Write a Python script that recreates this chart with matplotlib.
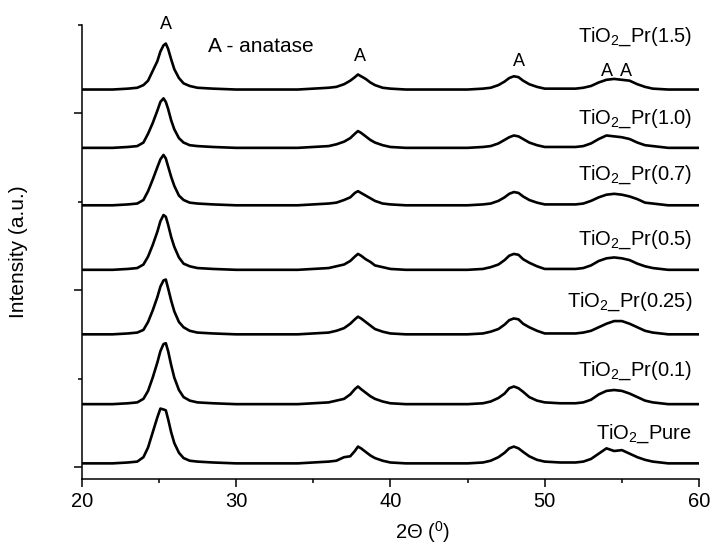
import matplotlib

matplotlib.use("Agg")
import matplotlib.pyplot as plt
from matplotlib.ticker import MultipleLocator

plt.rcParams["font.family"] = "Liberation Sans"
plt.rcParams["mathtext.fontset"] = "custom"
plt.rcParams["mathtext.rm"] = "Liberation Sans"
plt.rcParams["mathtext.it"] = "Liberation Sans:italic"
plt.rcParams["mathtext.bf"] = "Liberation Sans:bold"

# 2-theta sampling points (degrees)
TWO_THETA = [20, 21, 22, 23, 23.6, 24.0, 24.3, 24.6, 24.9, 25.1, 25.3, 25.45, 25.6,
             25.8, 26.0, 26.3, 26.6, 27.0, 27.5, 28.5, 30, 32, 34,
             35, 36, 36.5, 37.0, 37.4, 37.7, 37.9, 38.1, 38.4, 38.7, 39.0, 39.5, 40, 41, 43,
             45, 46, 46.5, 47.0, 47.4, 47.7, 48.0, 48.3, 48.6, 49.0, 49.5, 50, 51,
             52, 52.5, 53.0, 53.5, 54.0, 54.5, 55.0, 55.5, 56.0, 56.5, 57.0, 58, 59, 60]

# intensity above each pattern's own baseline (a.u.)
PR_15 = [0, 0, 0, 1, 2, 5, 10, 21, 32, 43, 50, 52, 46, 34, 23, 13, 7, 4, 2, 1, 0, 0, 0,
         1, 2, 3, 6, 10, 14, 17, 15, 12, 8, 5, 2, 1, 0, 0,
         0, 1, 2, 5, 9, 13, 15, 14, 10, 6, 3, 1, 1,
         1, 2, 4, 8, 11, 12, 11, 10, 6, 3, 1, 0, 0, 0]
PR_10 = [0, 0, 0, 1, 2, 6, 16, 28, 42, 52, 56, 52, 44, 31, 21, 11, 6, 3, 2, 1, 0, 0, 0,
         1, 2, 4, 7, 11, 16, 19, 17, 13, 9, 6, 3, 1, 0, 0,
         0, 1, 2, 5, 9, 12, 14, 13, 10, 6, 3, 1, 1,
         1, 2, 5, 10, 14, 13, 12, 10, 6, 3, 2, 0, 0, 0]
PR_07 = [0, 0, 0, 1, 2, 6, 16, 29, 43, 52, 57, 53, 44, 32, 22, 11, 6, 3, 2, 1, 0, 0, 0,
         1, 2, 3, 6, 9, 14, 16, 14, 11, 8, 5, 2, 1, 0, 0,
         0, 1, 2, 5, 9, 13, 15, 14, 10, 6, 3, 1, 1,
         1, 2, 5, 9, 12, 13, 12, 10, 7, 3, 2, 0, 0, 0]
PR_05 = [0, 0, 0, 1, 2, 6, 15, 28, 43, 55, 62, 60, 51, 37, 26, 14, 7, 4, 2, 1, 0, 0, 0,
         1, 2, 4, 6, 10, 15, 18, 16, 12, 9, 5, 3, 1, 0, 0,
         0, 1, 3, 6, 11, 16, 18, 17, 12, 8, 4, 1, 1,
         1, 2, 5, 10, 13, 14, 13, 11, 7, 4, 2, 0, 0, 0]
PR_025 = [0, 0, 0, 1, 2, 5, 14, 27, 42, 54, 61, 62, 52, 38, 26, 14, 8, 4, 2, 1, 0, 0, 0,
          1, 2, 4, 7, 12, 17, 20, 18, 14, 10, 6, 3, 1, 0, 0,
          0, 1, 3, 6, 11, 16, 18, 17, 12, 8, 4, 1, 1,
          1, 2, 4, 8, 12, 15, 15, 12, 8, 4, 2, 0, 0, 0]
PR_01 = [0, 0, 0, 1, 2, 6, 15, 30, 47, 60, 68, 69, 60, 44, 30, 16, 8, 4, 2, 1, 0, 0, 0,
         1, 2, 4, 6, 11, 17, 20, 17, 13, 9, 6, 3, 1, 0, 0,
         0, 1, 3, 7, 12, 18, 20, 18, 14, 8, 4, 2, 1,
         1, 2, 5, 11, 15, 16, 15, 12, 8, 4, 2, 0, 0, 0]
PURE = [0, 0, 0, 1, 2, 7, 18, 35, 52, 62, 61, 60, 50, 35, 23, 12, 6, 3, 2, 1, 0, 0, 0,
        1, 2, 3, 7, 8, 14, 19, 17, 13, 9, 6, 3, 1, 0, 0,
        0, 1, 3, 7, 12, 17, 19, 17, 13, 8, 4, 2, 1,
        1, 2, 5, 11, 17, 14, 15, 11, 7, 4, 2, 0, 0, 0]

SAMPLE_NAMES = ["TiO$_2$_Pure", "TiO$_2$_Pr(0.1)", "TiO$_2$_Pr(0.25)", "TiO$_2$_Pr(0.5)",
                "TiO$_2$_Pr(0.7)", "TiO$_2$_Pr(1.0)", "TiO$_2$_Pr(1.5)"]
SAMPLE_COUNTS = [PURE, PR_01, PR_025, PR_05, PR_07, PR_10, PR_15]
OFFSETS = [4, 71, 150, 223, 296, 361, 427]

# anatase reflections marked with "A"
ANATASE_X = [25.47, 38.05, 48.3, 54.06, 55.28]


def main() -> None:
    fig = plt.figure(figsize=(7.11, 5.46), dpi=100)
    ax = fig.add_axes([0.1149, 0.1222, 0.8683, 0.8320])

    for counts, offset in zip(SAMPLE_COUNTS, OFFSETS):
        ax.plot(TWO_THETA, [offset + c for c in counts], color="black", lw=1.9)

    label_y = [32, 103, 181, 251, 325, 388, 481]
    for name, y in zip(SAMPLE_NAMES, label_y):
        ax.text(59.55, y, name, ha="right", va="baseline", fontsize=14.5)

    a_y = [496, 459, 454, 442, 442]
    for x, y in zip(ANATASE_X, a_y):
        ax.text(x, y, "A", ha="center", va="baseline", fontsize=13)
    ax.text(28.19, 470, "A - anatase", ha="left", va="baseline", fontsize=15)

    ax.set_xlim(20, 60)
    ax.set_ylim(-14, 500)
    ax.xaxis.set_major_locator(MultipleLocator(10))
    ax.xaxis.set_minor_locator(MultipleLocator(5))
    ax.yaxis.set_major_locator(MultipleLocator(200))
    ax.yaxis.set_minor_locator(MultipleLocator(100))
    ax.tick_params(axis="both", which="major", length=5.5, width=1.1, direction="out")
    ax.tick_params(axis="both", which="minor", length=3, width=1.1, direction="out")
    ax.tick_params(axis="x", labelsize=14.5, pad=3.5)
    ax.tick_params(axis="y", labelleft=False)
    for side in ("top", "right"):
        ax.spines[side].set_visible(False)
    for side in ("left", "bottom"):
        ax.spines[side].set_linewidth(1.1)

    ax.set_xlabel("2Θ ($\\mathregular{^0}$)", fontsize=14.5)
    ax.xaxis.set_label_coords(0.552, -0.088)
    ax.set_ylabel("Intensity (a.u.)", fontsize=15)
    ax.yaxis.set_label_coords(-0.087, 0.5)

    fig.savefig("out.png", dpi=100)
    plt.close(fig)


if __name__ == "__main__":
    main()
